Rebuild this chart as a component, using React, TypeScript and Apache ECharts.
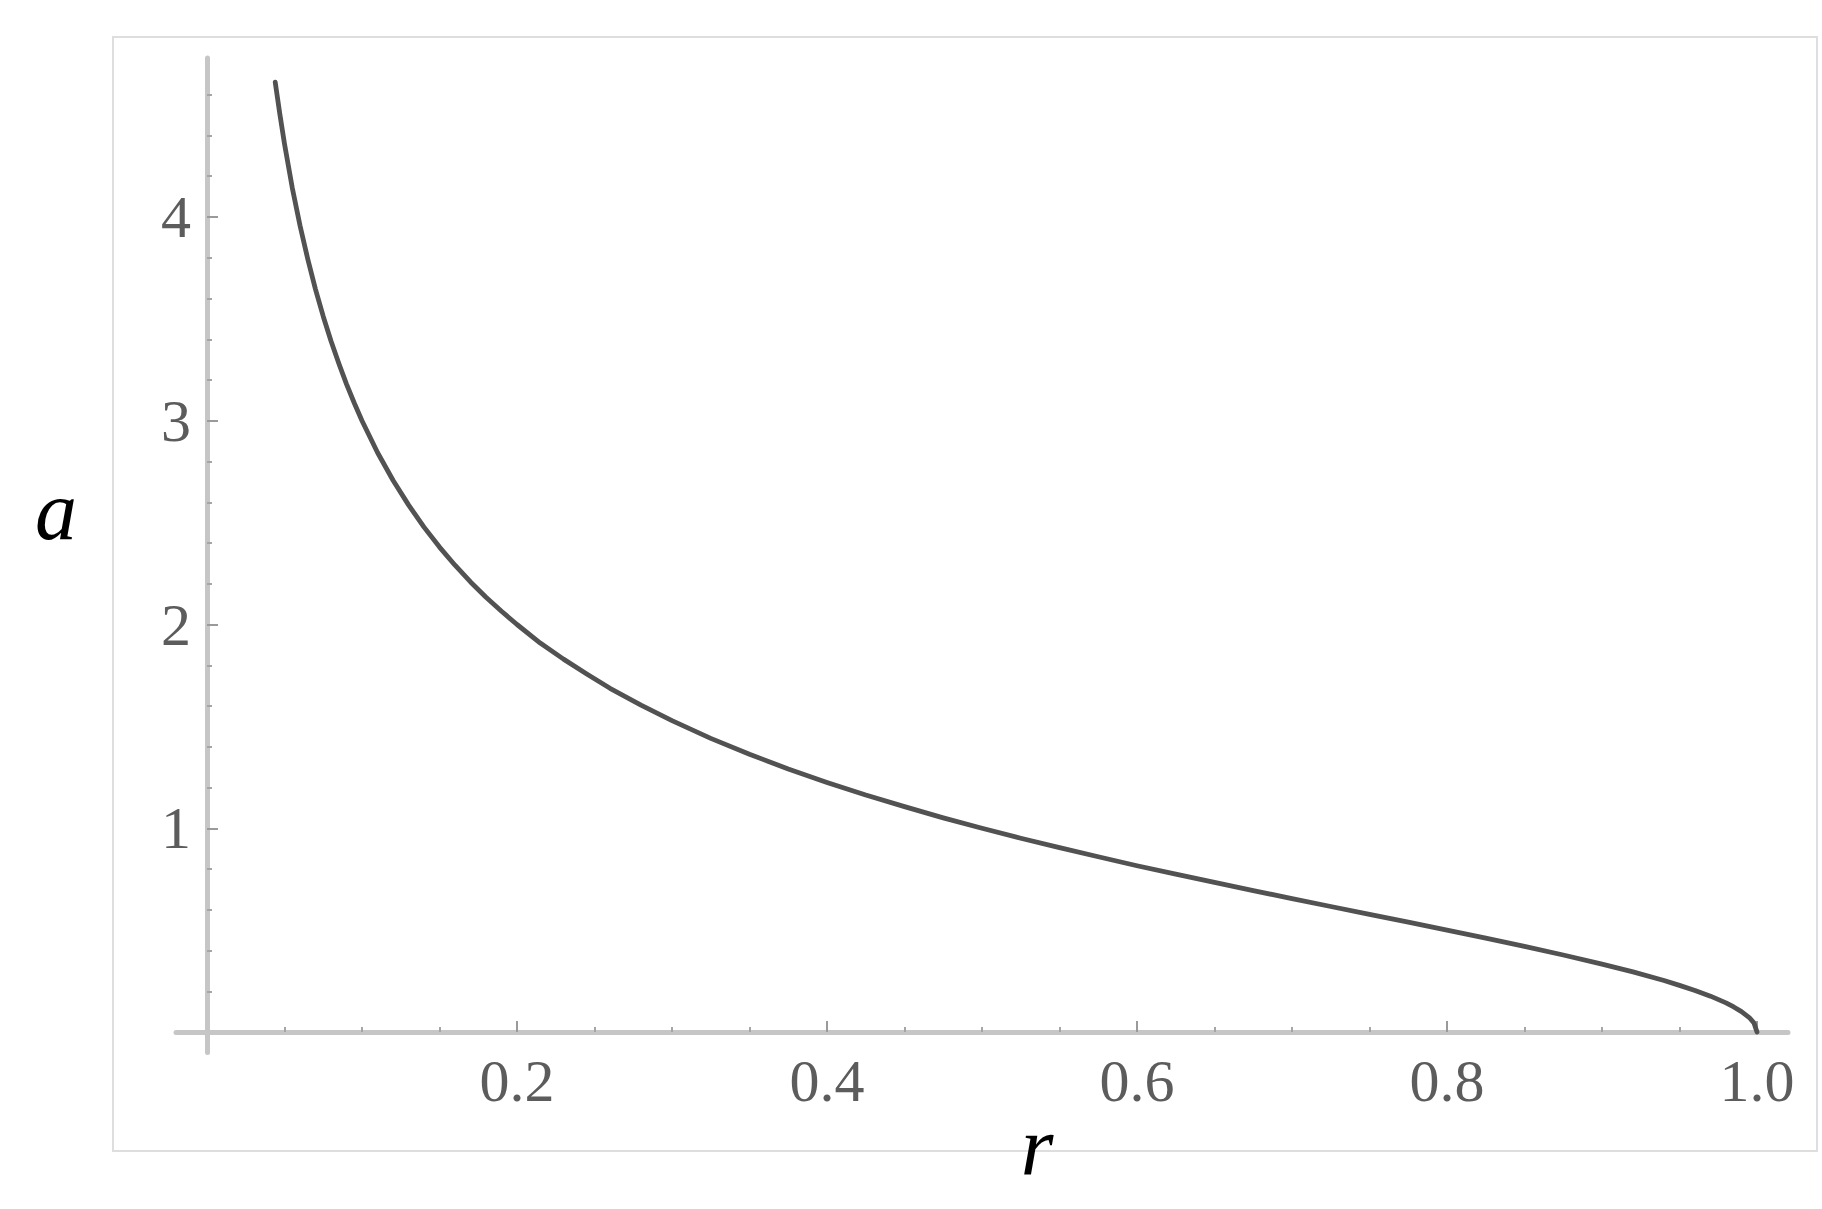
import React, { useEffect, useRef } from "react";
import * as echarts from "echarts";

// Curve a(r)
const rValues: number[] = [
  0.044, 0.047, 0.05, 0.055, 0.06, 0.065, 0.07, 0.075, 0.08, 0.085, 0.09, 0.095, 0.1, 0.11, 0.12,
  0.13, 0.14, 0.15, 0.16, 0.17, 0.18, 0.19, 0.2, 0.215, 0.23, 0.245, 0.26, 0.28, 0.3, 0.325, 0.35,
  0.375, 0.4, 0.425, 0.45, 0.475, 0.5, 0.525, 0.55, 0.575, 0.6, 0.625, 0.65, 0.675, 0.7, 0.725,
  0.75, 0.775, 0.8, 0.825, 0.85, 0.875, 0.9, 0.92, 0.94, 0.95, 0.96, 0.97, 0.98, 0.985, 0.99,
  0.995, 0.998, 1.0,
];
const aValues: number[] = [
  4.662, 4.505, 4.359, 4.144, 3.958, 3.794, 3.645, 3.512, 3.391, 3.282, 3.18, 3.087, 3.0, 2.844,
  2.708, 2.587, 2.478, 2.38, 2.291, 2.209, 2.134, 2.065, 2.0, 1.909, 1.83, 1.757, 1.687, 1.604,
  1.528, 1.441, 1.363, 1.291, 1.225, 1.163, 1.106, 1.051, 1.0, 0.951, 0.905, 0.86, 0.816, 0.775,
  0.734, 0.694, 0.655, 0.616, 0.577, 0.539, 0.5, 0.461, 0.42, 0.378, 0.333, 0.295, 0.253, 0.229,
  0.204, 0.176, 0.143, 0.123, 0.1, 0.071, 0.045, 0.0,
];

// Axis ticks and labels
const xMajorTicks: number[] = [0.2, 0.4, 0.6, 0.8, 1.0];
const xMinorTicks: number[] = [
  0.05, 0.1, 0.15, 0.25, 0.3, 0.35, 0.45, 0.5, 0.55, 0.65, 0.7, 0.75, 0.85, 0.9, 0.95,
];
const yMajorTicks: number[] = [1, 2, 3, 4];
const yMinorTicks: number[] = [
  0.2, 0.4, 0.6, 0.8, 1.2, 1.4, 1.6, 1.8, 2.2, 2.4, 2.6, 2.8, 3.2, 3.4, 3.6, 3.8, 4.2, 4.4, 4.6,
];
const xAxisTitle = "r";
const yAxisTitle = "a";

// Axis extents (axes extend slightly past the origin and last tick)
const X_MIN = -0.02;
const X_MAX = 1.02;
const Y_MIN = -0.1;
const Y_MAX = 4.78;

export default function App() {
  const ref = useRef<HTMLDivElement>(null);

  useEffect(() => {
    if (!ref.current) return;
    const chart = echarts.init(ref.current, null, { renderer: "svg" });

    const originX = 207;
    const originY = 1032;
    const pxPerX = 1550;
    const pxPerY = 203.75;
    const gridLeft = originX + X_MIN * pxPerX;
    const gridRight = originX + X_MAX * pxPerX;
    const gridTop = originY - Y_MAX * pxPerY;
    const gridBottom = originY - Y_MIN * pxPerY;

    const serif = "'Liberation Serif', 'DejaVu Serif', serif";
    const labelFont = {
      fontFamily: serif,
      fontSize: 60,
      color: "#5c5c5c",
    };
    const axisLineStyle = { color: "#c6c6c6", width: 5 };

    const data = rValues.map((r, i) => [r, aValues[i]]);

    chart.setOption({
      animation: false,
      backgroundColor: "#ffffff",
      grid: {
        left: gridLeft,
        width: gridRight - gridLeft,
        top: gridTop,
        height: gridBottom - gridTop,
        containLabel: false,
      },
      xAxis: [
        {
          type: "value",
          min: X_MIN,
          max: X_MAX,
          position: "bottom",
          offset: -(gridBottom - originY),
          axisLine: { show: true, onZero: false, lineStyle: axisLineStyle },
          axisTick: {
            show: true,
            inside: true,
            length: 11,
            customValues: xMajorTicks,
            lineStyle: { color: "#9a9a9a", width: 2 },
          },
          axisLabel: {
            show: true,
            customValues: xMajorTicks,
            margin: 19,
            formatter: (v: number) => v.toFixed(1),
            ...labelFont,
          },
          splitLine: { show: false },
        },
        {
          type: "value",
          min: X_MIN,
          max: X_MAX,
          position: "bottom",
          offset: -(gridBottom - originY),
          axisLine: { show: false, onZero: false },
          axisTick: {
            show: true,
            inside: true,
            length: 5,
            customValues: xMinorTicks,
            lineStyle: { color: "#a5a5a5", width: 2 },
          },
          axisLabel: { show: false },
          splitLine: { show: false },
        },
      ],
      yAxis: [
        {
          type: "value",
          min: Y_MIN,
          max: Y_MAX,
          position: "left",
          offset: -(originX - gridLeft),
          axisLine: { show: true, onZero: false, lineStyle: axisLineStyle },
          axisTick: {
            show: true,
            inside: true,
            length: 11,
            customValues: yMajorTicks,
            lineStyle: { color: "#9a9a9a", width: 2 },
          },
          axisLabel: {
            show: true,
            customValues: yMajorTicks,
            margin: 16,
            formatter: (v: number) => String(v),
            ...labelFont,
          },
          splitLine: { show: false },
        },
        {
          type: "value",
          min: Y_MIN,
          max: Y_MAX,
          position: "left",
          offset: -(originX - gridLeft),
          axisLine: { show: false, onZero: false },
          axisTick: {
            show: true,
            inside: true,
            length: 5,
            customValues: yMinorTicks,
            lineStyle: { color: "#a5a5a5", width: 2 },
          },
          axisLabel: { show: false },
          splitLine: { show: false },
        },
      ],
      series: [
        {
          type: "line",
          xAxisIndex: 0,
          yAxisIndex: 0,
          data,
          showSymbol: false,
          symbol: "none",
          smooth: false,
          lineStyle: { color: "#525252", width: 4.8, join: "round", cap: "round" },
          z: 5,
        },
      ],
      graphic: [
        {
          type: "rect",
          shape: { x: 113, y: 37, width: 1704, height: 1114 },
          style: { fill: "none", stroke: "#dedede", lineWidth: 2 },
          silent: true,
          z: -1,
        },
        {
          type: "text",
          x: 56,
          y: 510,
          style: {
            text: yAxisTitle,
            fontFamily: serif,
            fontStyle: "italic",
            fontSize: 84,
            fill: "#000000",
            align: "center",
            verticalAlign: "middle",
          },
        },
        {
          type: "text",
          x: 1037,
          y: 1146,
          style: {
            text: xAxisTitle,
            fontFamily: serif,
            fontStyle: "italic",
            fontSize: 84,
            fill: "#000000",
            align: "center",
            verticalAlign: "middle",
          },
        },
      ],
    });

    return () => chart.dispose();
  }, []);

  return (
    <div
      ref={ref}
      style={{ position: "absolute", left: 0, top: 0, width: 1822, height: 1209, background: "#fff" }}
    />
  );
}
